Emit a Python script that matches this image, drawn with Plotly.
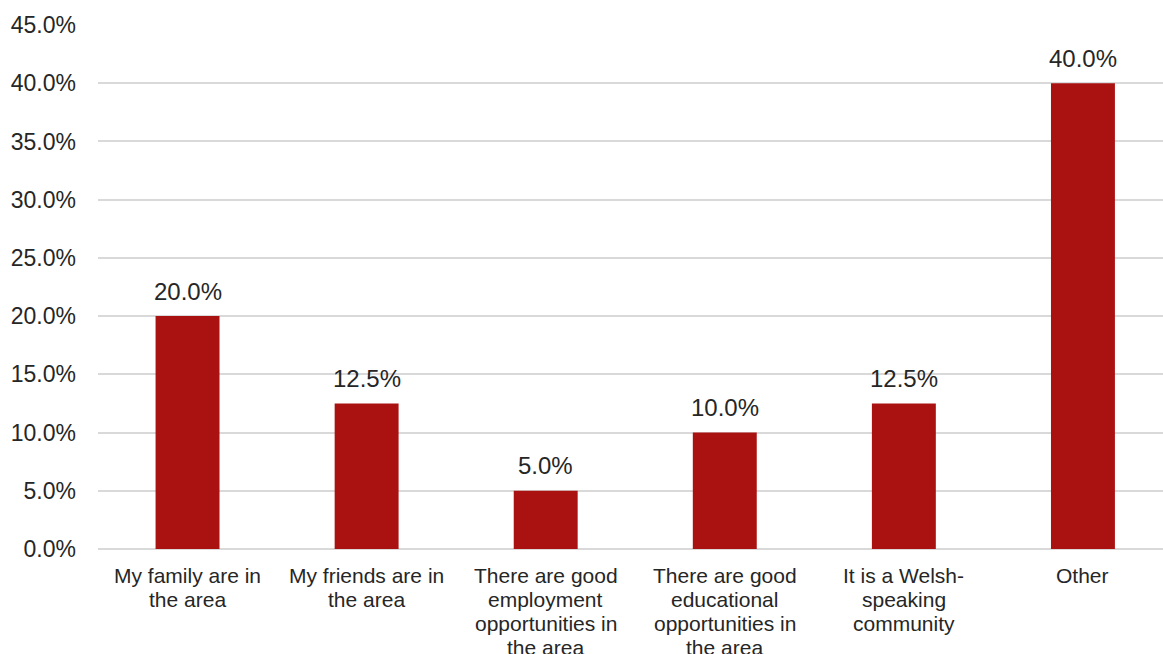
import plotly.graph_objects as go

categories = [
    "My family are in<br>the area",
    "My friends are in<br>the area",
    "There are good<br>employment<br>opportunities in<br>the area",
    "There are good<br>educational<br>opportunities in<br>the area",
    "It is a Welsh-<br>speaking<br>community",
    "Other",
]
percentages = [20.0, 12.5, 5.0, 10.0, 12.5, 40.0]
y_ticks = [0, 5, 10, 15, 20, 25, 30, 35, 40, 45]
y_tick_labels = [f"{v:.1f}%" for v in y_ticks]

FONT = "Liberation Sans, Arial, sans-serif"
TEXT = "#262626"
BAR = "#AA1212"
GRID = "#D9D9D9"

fig = go.Figure(
    go.Bar(
        x=categories,
        y=percentages,
        marker=dict(color=BAR, line=dict(width=0)),
        cliponaxis=False,
    )
)

# value labels above each bar
for cat, val in zip(categories, percentages):
    fig.add_annotation(
        x=cat, y=val, xref="x", yref="y",
        text=f"{val:.1f}%",
        showarrow=False,
        yanchor="middle",
        yshift=25,
        font=dict(family=FONT, size=24, color=TEXT),
    )

# category labels below the axis, one annotation per line for tight line spacing
LINE_GAP = 24
for cat in categories:
    for i, line in enumerate(cat.split("<br>")):
        fig.add_annotation(
            x=cat, y=0, xref="x", yref="paper",
            text=line,
            showarrow=False,
            yanchor="middle",
            yshift=-(26 + LINE_GAP * i),
            font=dict(family=FONT, size=21, color=TEXT),
        )

fig.update_layout(
    width=1163,
    height=654,
    margin=dict(l=98, r=0, t=25, b=105, pad=0),
    paper_bgcolor="white",
    plot_bgcolor="white",
    bargap=0.643,
    showlegend=False,
    font=dict(family=FONT, color=TEXT),
)

fig.update_xaxes(
    range=[-0.5, 5.447],
    showgrid=False,
    showline=False,
    zeroline=False,
    ticks="",
    showticklabels=False,
    automargin=False,
)

fig.update_yaxes(
    range=[0, 45],
    tickmode="array",
    tickvals=y_ticks,
    ticktext=y_tick_labels,
    showgrid=True,
    gridcolor=GRID,
    gridwidth=2,
    zeroline=True,
    zerolinecolor=GRID,
    zerolinewidth=2,
    showline=False,
    ticks="",
    tickfont=dict(family=FONT, size=23, color=TEXT),
    ticklabelstandoff=21,
    automargin=False,
)

fig.write_html("out.html")
